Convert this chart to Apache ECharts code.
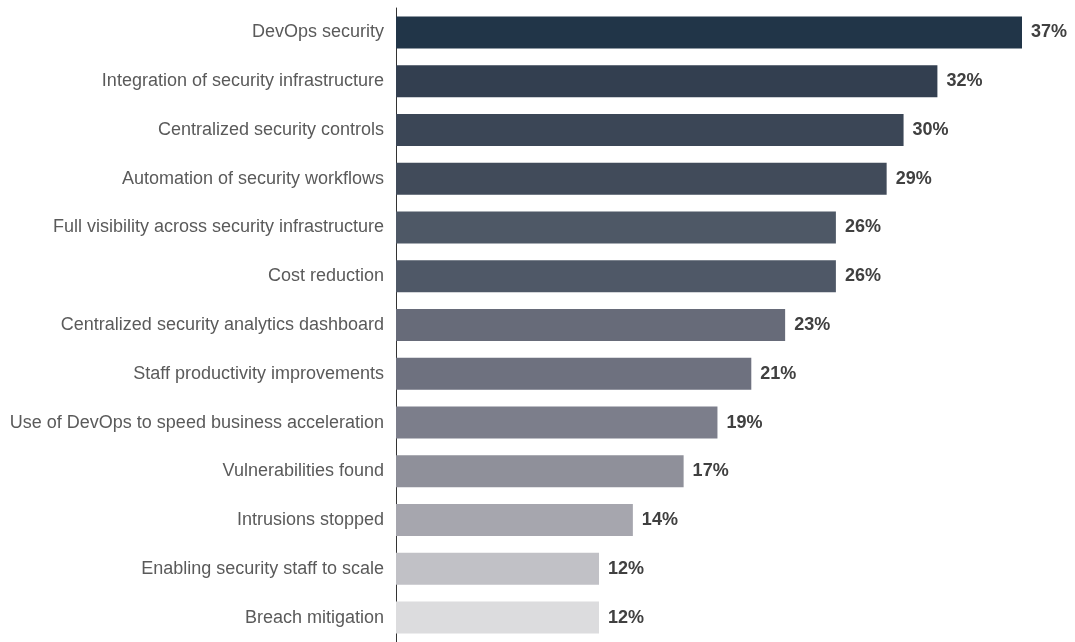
<!DOCTYPE html>
<html>
<head>
<meta charset="utf-8">
<style>
  html, body { margin: 0; padding: 0; background: #fff; }
  #chart { width: 1075px; height: 642px; }
</style>
<script src="https://cdn.jsdelivr.net/npm/echarts@6/dist/echarts.min.js"></script>
</head>
<body>
<div id="chart"></div>
<script>
// Survey items, top to bottom
const categories = [
  'DevOps security',
  'Integration of security infrastructure',
  'Centralized security controls',
  'Automation of security workflows',
  'Full visibility across security infrastructure',
  'Cost reduction',
  'Centralized security analytics dashboard',
  'Staff productivity improvements',
  'Use of DevOps to speed business acceleration',
  'Vulnerabilities found',
  'Intrusions stopped',
  'Enabling security staff to scale',
  'Breach mitigation'
];
// Share of respondents (%)
const values = [37, 32, 30, 29, 26, 26, 23, 21, 19, 17, 14, 12, 12];
// One shade per bar, dark navy fading to light grey
const barColors = [
  '#213548', '#333f50', '#3b4656', '#414b5a', '#4e5866', '#4f5867',
  '#676b79', '#6e717f', '#7c7e8b', '#8f909a', '#a6a6ae', '#c1c1c6', '#dcdcde'
];

const chart = echarts.init(document.getElementById('chart'));
chart.setOption({
  animation: false,
  grid: { left: 396, right: 53, top: 8, bottom: 0, containLabel: false },
  xAxis: {
    type: 'value',
    min: 0,
    max: 37,
    show: false
  },
  yAxis: {
    type: 'category',
    data: categories,
    inverse: true,
    axisLine: { show: true, lineStyle: { color: '#333', width: 1 } },
    axisTick: { show: false },
    axisLabel: {
      margin: 12,
      color: '#5a5a5a',
      fontSize: 18,
      fontFamily: 'Liberation Sans, Arial, sans-serif'
    }
  },
  series: [{
    type: 'bar',
    barWidth: 32,
    data: values.map((v, i) => ({ value: v, itemStyle: { color: barColors[i] } })),
    label: {
      show: true,
      position: 'right',
      distance: 9,
      formatter: '{c}%',
      color: '#404040',
      fontSize: 18,
      fontWeight: 'bold',
      fontFamily: 'Liberation Sans, Arial, sans-serif'
    }
  }]
});
</script>
</body>
</html>
